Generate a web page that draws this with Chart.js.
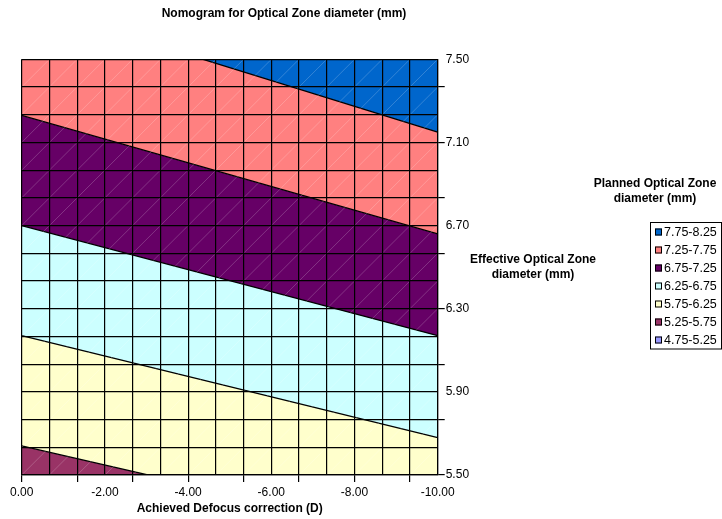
<!DOCTYPE html>
<html>
<head>
<meta charset="utf-8">
<script src="https://cdn.jsdelivr.net/npm/chart.js@4.4.1/dist/chart.umd.min.js"></script>
<style>
  html, body { margin: 0; padding: 0; background: #fff; }
  #wrap { width: 722px; height: 519px; }
</style>
</head>
<body>
<div id="wrap"><canvas id="nomo" width="722" height="519"></canvas></div>
<script>
// ── DATA ──────────────────────────────────
// achieved defocus correction (D) at the two ends of the x range
const defocus = [0, -10];

// lower edge of each planned-OZ band: effective OZ (mm) at 0 D and at -10 D
const edge775 = [7.77, 7.15];
const edge725 = [7.23, 6.66];
const edge675 = [6.70, 6.17];
const edge625 = [6.17, 5.68];
const edge575 = [5.64, 5.18];
const edge525 = [5.11, 4.69];

const bandLabels = ['7.75-8.25', '7.25-7.75', '6.75-7.25', '6.25-6.75', '5.75-6.25', '5.25-5.75', '4.75-5.25'];
const bandColors = ['#0066CC', '#FF8080', '#660066', '#CCFFFF', '#FFFFCC', '#993366', '#9999FF'];

const xTickLabels = ['0.00', '-2.00', '-4.00', '-6.00', '-8.00', '-10.00'];
const yTickLabels = ['5.50', '5.90', '6.30', '6.70', '7.10', '7.50'];

// 15 x 15 grid cells over the plot
const xGrid = Array.from({ length: 16 }, (_, i) => -10 + i * 2 / 3);
const yGrid = Array.from({ length: 16 }, (_, i) => 5.5 + i * 2 / 15);

const FONT = 'Liberation Sans, Arial, sans-serif';

// ── HELPERS ───────────────────────────────
const xStep = v => Math.round(-v * 1.5);          // 0 at 0.00 D, 15 at -10.00 D
const yStep = v => Math.round((v - 5.5) * 7.5);   // 0 at 5.50, 15 at 7.50

function band(edge, color, fill) {
  return {
    data: defocus.map((x, k) => ({ x, y: edge[k] })),
    borderColor: '#000',
    borderWidth: 1.3,
    backgroundColor: color,
    pointRadius: 0,
    fill
  };
}

// faint diagonals across every cell, like the surface mesh
const meshPlugin = {
  id: 'mesh',
  afterDatasetsDraw(chart) {
    const { ctx, chartArea: a, scales: { x, y } } = chart;
    ctx.save();
    ctx.beginPath();
    ctx.rect(a.left, a.top, a.right - a.left, a.bottom - a.top);
    ctx.clip();
    ctx.strokeStyle = 'rgba(255,255,255,0.2)';
    ctx.lineWidth = 1;
    ctx.beginPath();
    for (let i = 0; i < 15; i++) {
      for (let j = 0; j < 15; j++) {
        ctx.moveTo(x.getPixelForValue(xGrid[15 - i]), y.getPixelForValue(yGrid[j]));
        ctx.lineTo(x.getPixelForValue(xGrid[14 - i]), y.getPixelForValue(yGrid[j + 1]));
      }
    }
    ctx.stroke();
    ctx.restore();
  }
};

// chart title, side titles and the band key
const textPlugin = {
  id: 'texts',
  afterDraw(chart) {
    const ctx = chart.ctx;
    ctx.save();
    ctx.fillStyle = '#000';
    ctx.textAlign = 'center';
    ctx.textBaseline = 'middle';
    ctx.font = `bold 12px ${FONT}`;
    ctx.fillText('Nomogram for Optical Zone diameter (mm)', 284, 13.5);

    ctx.fillText('Effective Optical Zone', 533, 260);
    ctx.fillText('diameter (mm)', 533, 275);

    ctx.fillText('Planned Optical Zone', 655, 184);
    ctx.fillText('diameter (mm)', 655, 199);

    // key box
    ctx.strokeStyle = '#000';
    ctx.lineWidth = 1;
    ctx.strokeRect(650.5, 222.5, 71, 126.5);

    ctx.textAlign = 'left';
    ctx.font = `12.5px ${FONT}`;
    bandLabels.forEach((lab, k) => {
      const cy = 232 + k * 18;
      ctx.fillStyle = bandColors[k];
      ctx.fillRect(655, cy - 3.5, 7, 7);
      ctx.strokeRect(655.5, cy - 3, 6, 6);
      ctx.fillStyle = '#000';
      ctx.fillText(lab, 664, cy + 0.5);
    });
    ctx.restore();
  }
};

// ── CHART ─────────────────────────────────
new Chart(document.getElementById('nomo'), {
  type: 'line',
  data: {
    datasets: [
      band(edge775, bandColors[0], 'end'),
      band(edge725, bandColors[1], '-1'),
      band(edge675, bandColors[2], '-1'),
      band(edge625, bandColors[3], '-1'),
      band(edge575, bandColors[4], '-1'),
      band(edge525, bandColors[5], '-1')
    ]
  },
  options: {
    responsive: false,
    animation: false,
    devicePixelRatio: 1,
    layout: { padding: { left: 21.7, top: 59.3, right: 0, bottom: 4 } },
    plugins: { legend: { display: false }, tooltip: { enabled: false }, title: { display: false } },
    scales: {
      x: {
        type: 'linear', reverse: true, min: -10, max: 0, z: 1,
        afterBuildTicks: s => { s.ticks = xGrid.map(v => ({ value: v })); },
        afterFit: s => { s.height = 40; },
        grid: {
          z: 1, color: '#000', lineWidth: 1.2, tickLength: 7,
          tickColor: c => (c.tick && xStep(c.tick.value) % 2 === 0) ? '#000' : 'rgba(0,0,0,0)'
        },
        border: { display: true, color: '#000', width: 1.2, z: 2 },
        ticks: {
          autoSkip: false, maxRotation: 0, padding: 3, color: '#000',
          font: { family: FONT, size: 12 },
          callback: v => xStep(v) % 3 === 0 ? xTickLabels[xStep(v) / 3] : ''
        },
        title: {
          display: true, text: 'Achieved Defocus correction (D)', color: '#000',
          font: { family: FONT, size: 12, weight: 'bold', lineHeight: 1 },
          padding: { top: 0, bottom: 0 }
        }
      },
      y: {
        type: 'linear', position: 'right', min: 5.5, max: 7.5, z: 1,
        afterBuildTicks: s => { s.ticks = yGrid.map(v => ({ value: v })); },
        afterFit: s => { s.width = 722 - 437.7; },
        grid: {
          z: 1, color: '#000', lineWidth: 1.2, tickLength: 7,
          tickColor: c => (c.tick && yStep(c.tick.value) % 2 === 0) ? '#000' : 'rgba(0,0,0,0)'
        },
        border: { display: true, color: '#000', width: 1.2, z: 2 },
        ticks: {
          autoSkip: false, padding: 1, color: '#000',
          font: { family: FONT, size: 12 },
          callback: v => yStep(v) % 3 === 0 ? yTickLabels[yStep(v) / 3] : ''
        }
      }
    }
  },
  plugins: [meshPlugin, textPlugin]
});
</script>
</body>
</html>
